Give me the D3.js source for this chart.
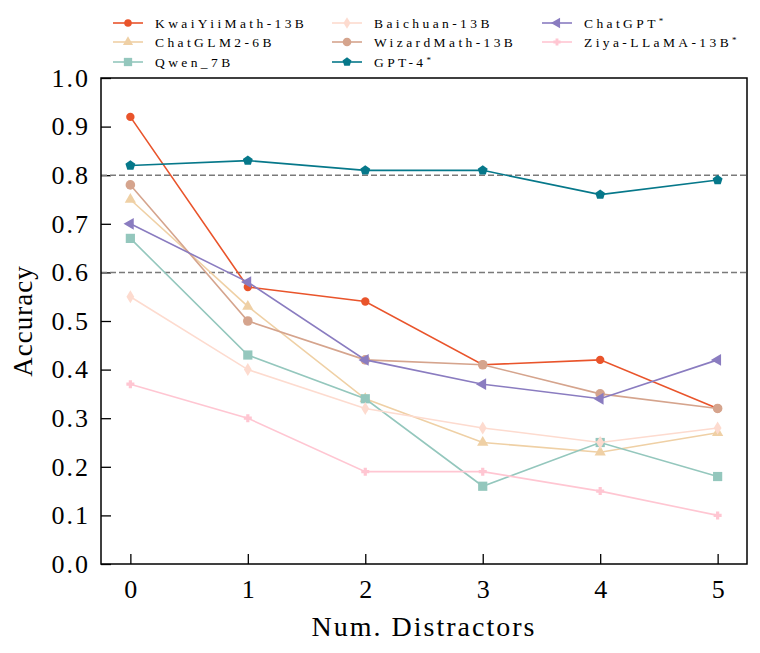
<!DOCTYPE html>
<html>
<head>
<meta charset="utf-8">
<script src="https://cdn.jsdelivr.net/npm/d3@7"></script>
<style>
  body { margin: 0; background: #fff; }
  svg text { font-family: "Liberation Serif", "DejaVu Serif", serif; fill: #000; }
</style>
</head>
<body>
<svg id="mainsvg" width="760" height="653"></svg>
<script>
// chart data
var distractors = [0, 1, 2, 3, 4, 5];
var yTicks = [0.0, 0.1, 0.2, 0.3, 0.4, 0.5, 0.6, 0.7, 0.8, 0.9, 1.0];
var refLines = [0.6, 0.8];

var kwaiYiiMath = [0.92, 0.57, 0.54, 0.41, 0.42, 0.32];
var chatGLM2 = [0.75, 0.53, 0.34, 0.25, 0.23, 0.27];
var qwen7B = [0.67, 0.43, 0.34, 0.16, 0.25, 0.18];
var baichuan = [0.55, 0.40, 0.32, 0.28, 0.25, 0.28];
var wizardMath = [0.78, 0.50, 0.42, 0.41, 0.35, 0.32];
var gpt4 = [0.82, 0.83, 0.81, 0.81, 0.76, 0.79];
var chatGPT = [0.70, 0.58, 0.42, 0.37, 0.34, 0.42];
var ziya = [0.37, 0.30, 0.19, 0.19, 0.15, 0.10];

var series = [
    {name: "KwaiYiiMath-13B", star: false, values: kwaiYiiMath, color: "#e9542b", marker: "circle", size: 4.2},
    {name: "ChatGLM2-6B", star: false, values: chatGLM2, color: "#efd0a5", marker: "triangleUp", size: 6.5},
    {name: "Qwen_7B", star: false, values: qwen7B, color: "#94c7bd", marker: "square", size: 4.6},
    {name: "Baichuan-13B", star: false, values: baichuan, color: "#fddbcf", marker: "thinDiamond", size: 6.5},
    {name: "WizardMath-13B", star: false, values: wizardMath, color: "#d5a48d", marker: "circle", size: 4.8},
    {name: "GPT-4", star: true, values: gpt4, color: "#06788a", marker: "pentagon", size: 5.2},
    {name: "ChatGPT", star: true, values: chatGPT, color: "#8a7cc0", marker: "triangleLeft", size: 6.8},
    {name: "Ziya-LLaMA-13B", star: true, values: ziya, color: "#ffc6d2", marker: "plus", size: 4}
];

var box = {left: 101, right: 747, top: 78, bottom: 564};

var svg = d3.select("#mainsvg");

var x = d3.scaleLinear().domain([-0.25, 5.25]).range([box.left, box.right]);
var y = d3.scaleLinear().domain([0, 1]).range([box.bottom, box.top]);

// marker shapes, r is a half size in pixels
function markerPath(kind, r){
    var p = d3.path();
    var i, a;
    if(kind === "circle"){
        p.arc(0, 0, r, 0, 2 * Math.PI);
    }else if(kind === "square"){
        p.rect(-r, -r, 2 * r, 2 * r);
    }else if(kind === "triangleUp" || kind === "triangleLeft"){
        for(i = 0; i < 3; i++){
            a = (kind === "triangleUp" ? -Math.PI / 2 : Math.PI) + i * 2 * Math.PI / 3;
            if(i === 0){ p.moveTo(r * Math.cos(a), r * Math.sin(a)); }
            else{ p.lineTo(r * Math.cos(a), r * Math.sin(a)); }
        }
    }else if(kind === "pentagon"){
        for(i = 0; i < 5; i++){
            a = -Math.PI / 2 + i * 2 * Math.PI / 5;
            if(i === 0){ p.moveTo(r * Math.cos(a), r * Math.sin(a)); }
            else{ p.lineTo(r * Math.cos(a), r * Math.sin(a)); }
        }
    }else if(kind === "thinDiamond"){
        p.moveTo(0, -r);
        p.lineTo(r * 0.6, 0);
        p.lineTo(0, r);
        p.lineTo(-r * 0.6, 0);
    }else if(kind === "plus"){
        var t = r / 2.5;
        p.moveTo(-t, -r); p.lineTo(t, -r); p.lineTo(t, -t); p.lineTo(r, -t);
        p.lineTo(r, t); p.lineTo(t, t); p.lineTo(t, r); p.lineTo(-t, r);
        p.lineTo(-t, t); p.lineTo(-r, t); p.lineTo(-r, -t); p.lineTo(-t, -t);
    }
    p.closePath();
    return p.toString();
}

// axes with inward ticks
var xAxis = d3.axisBottom(x).tickValues(distractors).tickSize(-10).tickPadding(14)
    .tickFormat(d3.format("d"));
var yAxis = d3.axisLeft(y).tickValues(yTicks).tickSize(-10).tickPadding(11)
    .tickFormat(d3.format(".1f"));

var gx = svg.append("g")
    .attr("transform", "translate(0," + box.bottom + ")")
    .call(xAxis);
var gy = svg.append("g")
    .attr("transform", "translate(" + box.left + ",0)")
    .call(yAxis);

[gx, gy].forEach(function(g){
    g.select(".domain").remove();
    g.selectAll(".tick line").attr("stroke", "#000").attr("stroke-width", 1.3);
    g.selectAll(".tick text").style("font-size", "26px");
});
gx.selectAll(".tick text").attr("dy", "0.75em");
gy.selectAll(".tick text").style("letter-spacing", "2px");

// reference lines
svg.append("g").selectAll("line")
    .data(refLines)
    .enter().append("line")
    .attr("x1", box.left).attr("x2", box.right)
    .attr("y1", function(d){ return y(d); })
    .attr("y2", function(d){ return y(d); })
    .attr("stroke", "#7a7a7a")
    .attr("stroke-width", 1.5)
    .attr("stroke-dasharray", "6,3");

// series lines and markers
var line = d3.line()
    .x(function(d, i){ return x(distractors[i]); })
    .y(function(d){ return y(d); });

var plots = svg.append("g").selectAll("g")
    .data(series)
    .enter().append("g");

plots.append("path")
    .attr("d", function(s){ return line(s.values); })
    .attr("fill", "none")
    .attr("stroke", function(s){ return s.color; })
    .attr("stroke-width", 1.6);

plots.each(function(s){
    d3.select(this).selectAll(".mk")
        .data(s.values)
        .enter().append("path")
        .attr("class", "mk")
        .attr("d", markerPath(s.marker, s.size))
        .attr("fill", s.color)
        .attr("transform", function(d, i){
            return "translate(" + x(distractors[i]) + "," + y(d) + ")";
        });
});

// frame
svg.append("rect")
    .attr("x", box.left).attr("y", box.top)
    .attr("width", box.right - box.left)
    .attr("height", box.bottom - box.top)
    .attr("fill", "none")
    .attr("stroke", "#000")
    .attr("stroke-width", 1.5);

// axis labels
svg.append("text")
    .attr("x", (box.left + box.right) / 2)
    .attr("y", 636)
    .attr("text-anchor", "middle")
    .style("font-size", "28px")
    .style("letter-spacing", "2px")
    .text("Num. Distractors");

svg.append("text")
    .attr("transform", "translate(32," + (box.top + box.bottom) / 2 + ") rotate(-90)")
    .attr("text-anchor", "middle")
    .style("font-size", "27px")
    .style("letter-spacing", "1px")
    .text("Accuracy");

// legend, three columns filled top to bottom
var legendCols = [113, 332, 542];
var legendRows = [23, 42, 62];

var legend = svg.append("g").selectAll("g")
    .data(series)
    .enter().append("g")
    .attr("transform", function(s, i){
        return "translate(" + legendCols[Math.floor(i / 3)] + "," + legendRows[i % 3] + ")";
    });

legend.append("line")
    .attr("x1", 0).attr("x2", 30)
    .attr("stroke", function(s){ return s.color; })
    .attr("stroke-width", 1.6);

legend.append("path")
    .attr("d", function(s){ return markerPath(s.marker, s.size * 0.9); })
    .attr("fill", function(s){ return s.color; })
    .attr("transform", "translate(15,0)");

var labels = legend.append("text")
    .attr("x", 42)
    .attr("dy", "0.35em")
    .style("font-size", "13.5px")
    .style("letter-spacing", "3.4px");

labels.append("tspan").text(function(s){ return s.name; });
labels.filter(function(s){ return s.star; })
    .append("tspan")
    .attr("dy", "-0.45em")
    .style("font-size", "9px")
    .text("*");
</script>
</body>
</html>
